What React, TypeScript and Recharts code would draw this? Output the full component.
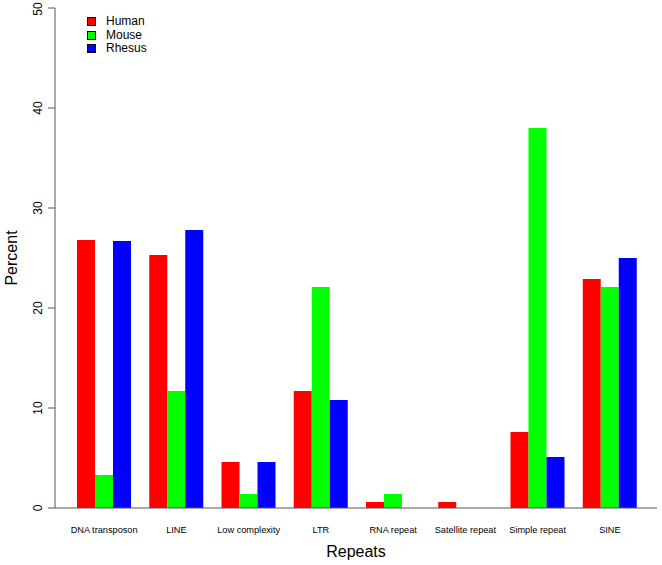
import { BarChart, Bar, XAxis, YAxis, Legend } from "recharts";

const categories = [
  "DNA transposon",
  "LINE",
  "Low complexity",
  "LTR",
  "RNA repeat",
  "Satellite repeat",
  "Simple repeat",
  "SINE",
];
const human = [26.8, 25.3, 4.6, 11.7, 0.6, 0.6, 7.6, 22.9];
const mouse = [3.3, 11.7, 1.4, 22.1, 1.4, 0, 38.0, 22.1];
const rhesus = [26.7, 27.8, 4.6, 10.8, 0, 0, 5.1, 25.0];
const yTicks = [0, 10, 20, 30, 40, 50];

const seriesNames = ["Human", "Mouse", "Rhesus"];
const colors = ["#ff0000", "#00ff00", "#0000ff"];

const font = "'Liberation Sans', Arial, Helvetica, sans-serif";
const axisColor = "#555";

const chartData = categories.map((name, i) => ({
  name,
  Human: human[i],
  Mouse: mouse[i],
  Rhesus: rhesus[i],
}));

const YTick = (props: any) => {
  const { x, y, payload } = props;
  const tx = x - 4;
  return (
    <text
      x={tx}
      y={y}
      textAnchor="middle"
      fontSize={12}
      fill="#000"
      fontFamily={font}
      transform={`rotate(-90, ${tx}, ${y})`}
    >
      {payload.value}
    </text>
  );
};

const XTick = (props: any) => {
  const { x, y, payload } = props;
  return (
    <text x={x} y={y + 16.5} textAnchor="middle" fontSize={9.2} fill="#000" fontFamily={font}>
      {payload.value}
    </text>
  );
};

const LegendBox = () => (
  <div style={{ fontFamily: font, fontSize: 12, lineHeight: "13.5px" }}>
    {seriesNames.map((n, i) => (
      <div key={n} style={{ display: "flex", alignItems: "center" }}>
        <span
          style={{
            display: "inline-block",
            width: 7,
            height: 7,
            background: colors[i],
            border: "0.5px solid #000",
            marginRight: 10,
          }}
        />
        <span>{n}</span>
      </div>
    ))}
  </div>
);

export default function App() {
  return (
    <div style={{ position: "absolute", left: 0, top: 0, background: "#fff" }}>
      <BarChart
        width={662}
        height={565}
        data={chartData}
        margin={{ top: 8, right: 5, bottom: 0, left: 0 }}
        barGap={0}
        barCategoryGap={9}
      >
        <XAxis
          dataKey="name"
          height={57}
          padding={{ left: 13, right: 11 }}
          tickLine={false}
          axisLine={{ stroke: axisColor }}
          tick={<XTick />}
          interval={0}
          label={{
            content: (p: any) => {
              const vb = p.viewBox;
              return (
                <text
                  x={vb.x + vb.width / 2}
                  y={vb.y + 49}
                  textAnchor="middle"
                  fontSize={16}
                  fontFamily={font}
                  fill="#000"
                >
                  Repeats
                </text>
              );
            },
          }}
        />
        <XAxis
          xAxisId="top"
          dataKey="name"
          orientation="top"
          height={0}
          tick={false}
          tickLine={false}
          axisLine={{ stroke: axisColor }}
        />
        <YAxis
          width={55}
          domain={[0, 50]}
          ticks={yTicks}
          tickSize={7}
          tickLine={{ stroke: axisColor }}
          axisLine={{ stroke: axisColor }}
          tick={<YTick />}
          label={{
            content: (p: any) => {
              const vb = p.viewBox;
              const lx = vb.x + 17;
              const ly = vb.y + vb.height / 2;
              return (
                <text
                  x={lx}
                  y={ly}
                  textAnchor="middle"
                  fontSize={16}
                  fontFamily={font}
                  fill="#000"
                  transform={`rotate(-90, ${lx}, ${ly})`}
                >
                  Percent
                </text>
              );
            },
          }}
        />
        <YAxis
          yAxisId="right"
          orientation="right"
          width={0}
          domain={[0, 50]}
          tick={false}
          tickLine={false}
          axisLine={{ stroke: axisColor }}
        />
        <Legend
          layout="vertical"
          align="center"
          verticalAlign="middle"
          content={<LegendBox />}
          wrapperStyle={{ left: 87, top: 15, width: "auto", height: "auto" }}
        />
        {seriesNames.map((n, i) => (
          <Bar key={n} dataKey={n} fill={colors[i]} barSize={18} isAnimationActive={false} />
        ))}
      </BarChart>
    </div>
  );
}
